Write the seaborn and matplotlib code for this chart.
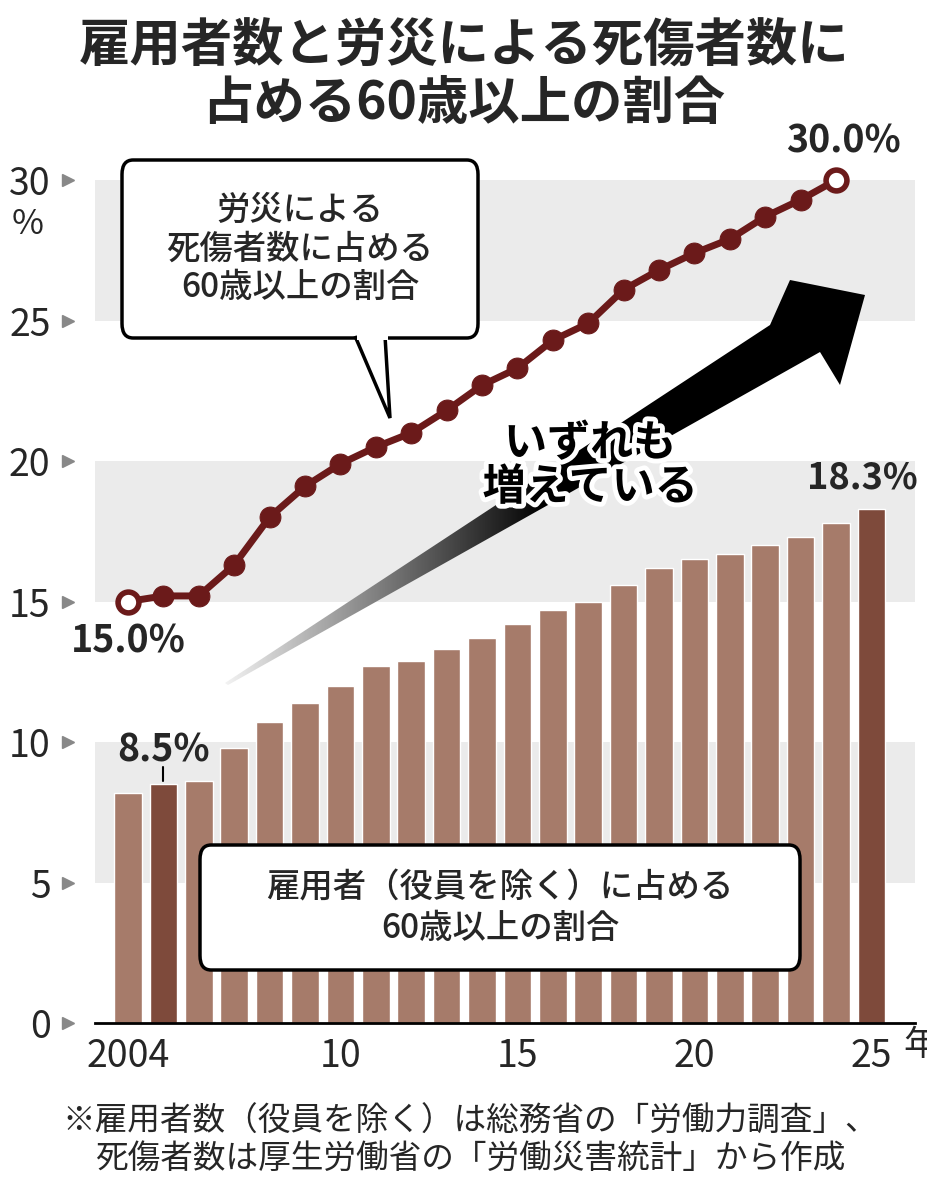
import numpy as np
import pandas as pd
import seaborn as sns
import matplotlib.pyplot as plt
from matplotlib.patches import Polygon, FancyBboxPatch
import matplotlib.patheffects as pe

years_bar = list(range(2004, 2026))
employee_share = [8.2, 8.5, 8.6, 9.8, 10.7, 11.4, 12.0, 12.7, 12.9, 13.3, 13.7,
                  14.2, 14.7, 15.0, 15.6, 16.2, 16.5, 16.7, 17.0, 17.3, 17.8, 18.3]
years_line = list(range(2004, 2025))
casualty_share = [15.0, 15.2, 15.2, 16.3, 18.0, 19.1, 19.9, 20.5, 21.0, 21.8, 22.7,
                  23.3, 24.3, 24.9, 26.1, 26.8, 27.4, 27.9, 28.7, 29.3, 30.0]
xtick_years = [2004, 2010, 2015, 2020, 2025]
xtick_labels = ["2004", "10", "15", "20", "25"]
ytick_vals = [0, 5, 10, 15, 20, 25, 30]

sns.set_style("white")
plt.rcParams['font.family'] = ['Noto Sans CJK JP', 'DejaVu Sans']

W, H = 928, 1200
fig = plt.figure(figsize=(W / 100, H / 100), dpi=100)
ax = fig.add_axes([95 / W, 1 - 1023 / H, 820 / W, 871 / H])

def P(x, y):
    return (x / W, 1 - y / H)

# gray bands
for lo in (5, 15, 25):
    ax.axhspan(lo, lo + 5, color="#ebebeb", zorder=0, lw=0)

bar_col = "#a67b6a"
hi_col = "#7e4a3b"
df = pd.DataFrame({"year": years_bar, "v": employee_share})
colors = [hi_col if y in (2005, 2025) else bar_col for y in years_bar]
ax.bar(df["year"], df["v"], width=0.78, color=colors, zorder=2)

line_col = "#6b1a1a"
ld = pd.DataFrame({"year": years_line, "v": casualty_share})
sns.lineplot(data=ld, x="year", y="v", ax=ax, color=line_col, lw=5, zorder=4,
             marker="o", markersize=15, markeredgecolor=line_col, markerfacecolor=line_col)
for i in (0, -1):
    ax.plot(years_line[i], casualty_share[i], "o", ms=15, mfc="white", mec=line_col,
            mew=4, zorder=5)

ax.set_xlim(2003.07, 2026.23)
ax.set_ylim(0, 31)
for s in ("left", "right", "top"):
    ax.spines[s].set_visible(False)
ax.spines["bottom"].set_color("black")
ax.spines["bottom"].set_linewidth(2)
ax.set_xticks(xtick_years)
ax.set_xticklabels(xtick_labels, fontsize=27)
ax.tick_params(axis="x", length=8, width=2, pad=2)
ax.set_yticks(ytick_vals)
ax.set_yticklabels([str(v) for v in ytick_vals], fontsize=27)
ax.tick_params(axis="y", length=0, pad=32)
ax.set_xlabel("")
ax.set_ylabel("")
for v in ytick_vals:
    ax.plot(-0.033, v, marker=">", color="#888888", ms=9, transform=ax.get_yaxis_transform(),
            clip_on=False)
fig.text(*P(12, 225), "%", fontsize=25, va="center")
fig.text(*P(903, 1046), "年", fontsize=25, va="center")

# value labels
ax.text(2004, 13.6, "15.0%", fontsize=27, fontweight="bold", ha="center", va="center")
ax.text(2024.2, 31.4, "30.0%", fontsize=27, fontweight="bold", ha="center", va="center")
ax.text(2005, 9.7, "8.5%", fontsize=27, fontweight="bold", ha="center", va="center")
ax.plot([2005, 2005], [8.6, 9.1], color="black", lw=1.5)
ax.text(2024.75, 19.4, "18.3%", fontsize=26, fontweight="bold", ha="center", va="center")

# big gradient arrow
arrow_px = [(225, 683), (770, 325), (790, 280), (865, 295), (840, 385), (820, 352), (228, 685)]
grad = np.linspace(0, 1, 256).reshape(1, -1)
gax = fig.add_axes([0, 0, 1, 1], zorder=3)
gax.set_axis_off()
gax.set_xlim(0, 1)
gax.set_ylim(0, 1)
im = gax.imshow(grad, extent=(225 / W, 865 / W, 0, 1), aspect="auto",
                cmap=plt.matplotlib.colors.LinearSegmentedColormap.from_list("g", ["#f2f2f2", "#000000", "#000000"]))
clip = Polygon([P(x, y) for x, y in arrow_px], closed=True, transform=gax.transAxes)
im.set_clip_path(clip)
gax.text(*P(590, 465), "いずれも\n増えている", fontsize=31, fontweight="bold", ha="center",
         va="center", linespacing=1.0, color="black",
         path_effects=[pe.withStroke(linewidth=7, foreground="white")])

# callout boxes
box1 = FancyBboxPatch(P(122, 338), 356 / W, 178 / H, boxstyle="round,pad=0,rounding_size=0.012",
                      transform=gax.transAxes, facecolor="white", edgecolor="black", lw=2.5)
gax.add_patch(box1)
tail = Polygon([P(355, 336), P(390, 418), P(385, 336)], closed=False, transform=gax.transAxes,
               facecolor="white", edgecolor="black", lw=2.5)
gax.add_patch(tail)
gax.add_patch(Polygon([P(357, 333), P(388, 333), P(388, 340), P(357, 340)], transform=gax.transAxes,
                      facecolor="white", edgecolor="none"))
gax.text(*P(300, 249), "労災による\n死傷者数に占める\n60歳以上の割合", fontsize=24, ha="center",
         va="center", linespacing=1.12, fontweight="medium")
box2 = FancyBboxPatch(P(200, 970), 600 / W, 125 / H, boxstyle="round,pad=0,rounding_size=0.012",
                      transform=gax.transAxes, facecolor="white", edgecolor="black", lw=2.5)
gax.add_patch(box2)
gax.text(*P(500, 908), "雇用者（役員を除く）に占める\n60歳以上の割合", fontsize=24, ha="center",
         va="center", linespacing=1.2, fontweight="medium")

# title and note
fig.text(*P(464, 75), "雇用者数と労災による死傷者数に\n占める60歳以上の割合", fontsize=37,
         fontweight="bold", ha="center", va="center", linespacing=1.1)
fig.text(*P(470, 1140), "※雇用者数（役員を除く）は総務省の「労働力調査」、\n死傷者数は厚生労働省の「労働災害統計」から作成",
         fontsize=23.5, ha="center", va="center", linespacing=1.2)

fig.savefig("out.png", dpi=100)
